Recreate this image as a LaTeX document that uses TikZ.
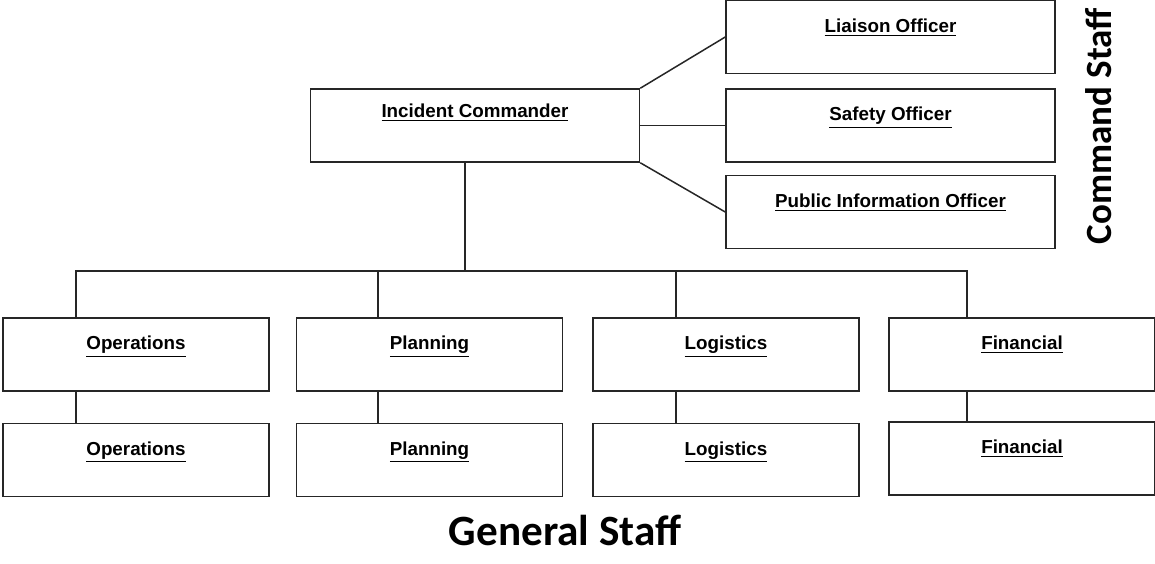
\documentclass[tikz,border=0pt]{standalone}
\usepackage{fontspec}
\setmainfont{Liberation Sans}
\newfontfamily\staffont{Carlito}
\usepackage{tikz}
\usetikzlibrary{calc}

\tikzset{
  box/.style={draw=black!85, line width=0.75pt, minimum width=133pt, minimum height=36.5pt,
    text height=7pt, text depth=12pt, inner sep=0pt, font=\fontsize{9.4}{11}\selectfont\bfseries},
  wide/.style={box, minimum width=164.5pt},
  link/.style={draw=black!85, line width=0.75pt},
  staff/.style={font=\staffont\fontsize{21.6}{24}\selectfont\bfseries}
}

\begin{document}
\begin{tikzpicture}[x=0.5pt,y=-0.5pt]
\useasboundingbox(0,0) rectangle (1155,563);

% command staff
\node[wide,text depth=15pt](ic) at (475,125.5){\underline{Incident Commander}};
\node[wide](lo) at (890.5,37){\underline{Liaison Officer}};
\node[wide](so) at (890.5,125.5){\underline{Safety Officer}};
\node[wide](pio) at (890.5,212){\underline{Public Information Officer}};
\draw[link](ic.north east)--(lo.west);
\draw[link](ic.east)--(so.west);
\draw[link](ic.south east)--(pio.west);

% general staff
\node[box](ops) at (136,354.5){\underline{Operations}};
\node[box](pla) at (429.5,354.5){\underline{Planning}};
\node[box](lgs) at (726,354.5){\underline{Logistics}};
\node[box](fin) at (1022,354.5){\underline{Financial}};
\node[box](ops2) at (136,460){\underline{Operations}};
\node[box](pla2) at (429.5,460){\underline{Planning}};
\node[box](lgs2) at (726,460){\underline{Logistics}};
\node[box](fin2) at (1022,458.5){\underline{Financial}};

\coordinate(bus) at (465,271);
\draw[link](ic.south -| bus)--(bus);
\draw[link](bus)-|([xshift=-30pt]ops.north);
\draw[link](bus)-|([xshift=-25.75pt]pla.north);
\draw[link](bus)-|([xshift=-25pt]lgs.north);
\draw[link](bus)-|([xshift=-27.5pt]fin.north);
\draw[link]([xshift=-30pt]ops.south)--([xshift=-30pt]ops2.north);
\draw[link]([xshift=-25.75pt]pla.south)--([xshift=-25.75pt]pla2.north);
\draw[link]([xshift=-25pt]lgs.south)--([xshift=-25pt]lgs2.north);
\draw[link]([xshift=-27.5pt]fin.south)--([xshift=-27.5pt]fin2.north);

\node[staff,rotate=90,font=\staffont\fontsize{18.5}{22}\selectfont\bfseries](cs) at (1099,126){Command Staff};
\node[staff](gs) at (565,530){General Staff};

\end{tikzpicture}
\end{document}
